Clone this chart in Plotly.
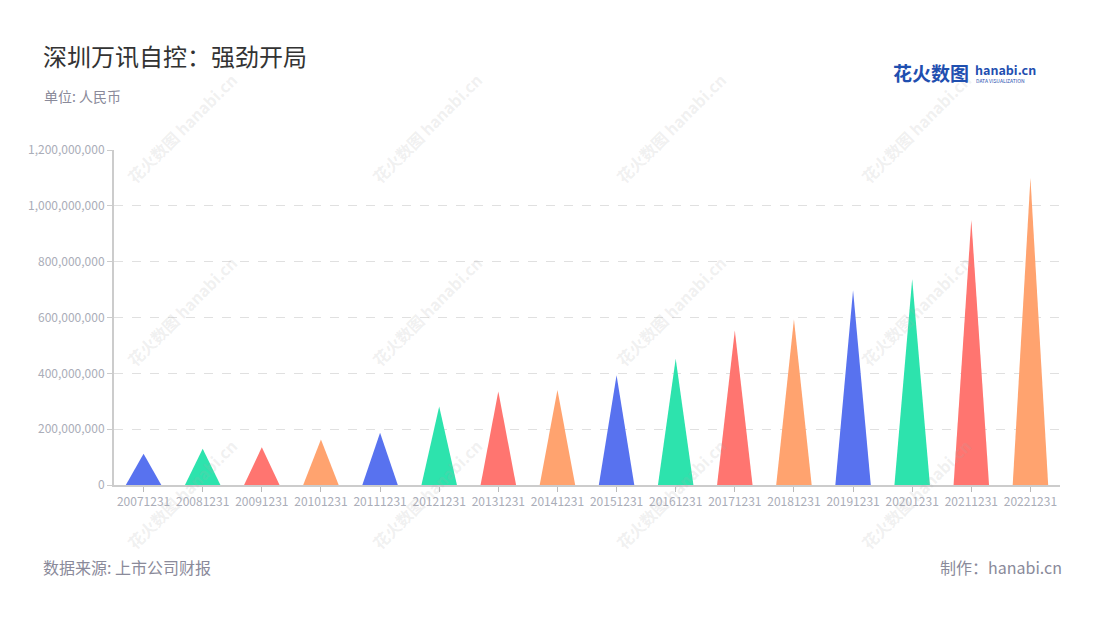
import plotly.graph_objects as go

categories = ["20071231", "20081231", "20091231", "20101231", "20111231", "20121231",
              "20131231", "20141231", "20151231", "20161231", "20171231", "20181231",
              "20191231", "20201231", "20211231", "20221231"]
values = [112e6, 130e6, 135e6, 163e6, 187e6, 281e6, 335e6, 340e6, 393e6, 452e6,
          553e6, 594e6, 698e6, 738e6, 950e6, 1100e6]
palette = ["#5872ef", "#2de3ad", "#ff7570", "#ffa36f"]
y_ticks = [0, 200e6, 400e6, 600e6, 800e6, 1000e6, 1200e6]

FONT = "Noto Sans CJK SC"
HALF = 0.3

# plot area in page pixels
PX0, PX1, PY0, PY1 = 114, 1060, 150, 485
OFF = 8  # page body offset


def px(x):
    return (x - PX0) / (PX1 - PX0)


def py(y):
    return (PY1 - y) / (PY1 - PY0)


fig = go.Figure()
for i, (c, v) in enumerate(zip(categories, values)):
    fig.add_trace(go.Scatter(
        x=[i - HALF, i, i + HALF, i - HALF],
        y=[0, v, 0, 0],
        mode="lines",
        fill="toself",
        fillcolor=palette[i % 4],
        line=dict(width=0, color=palette[i % 4]),
        hoverinfo="skip",
        showlegend=False,
    ))

# watermarks
wm_x = [182, 427, 671, 916]
wm_y = [128, 311, 494]
for wx in wm_x:
    for wy in wm_y:
        fig.add_annotation(
            x=px(wx), y=py(wy), xref="paper", yref="paper",
            xanchor="center", yanchor="middle", showarrow=False,
            text="<b>花火数图 hanabi.cn</b>", textangle=-45,
            font=dict(family=FONT, size=16, color="rgba(170,170,170,0.18)"),
        )

ann = [
    dict(text="深圳万讯自控：强劲开局", x=41, y=55, size=24, color="#333333", anchor="left"),
    dict(text="单位: 人民币", x=42, y=96, size=14, color="#8a8a9a", anchor="left"),
    dict(text="数据来源: 上市公司财报", x=41, y=567, size=16, color="#8a8a9a", anchor="left"),
    dict(text="制作：hanabi.cn", x=1064, y=567, size=16, color="#8a8a9a", anchor="right"),
    dict(text="<b>花火数图</b>", x=891, y=72, size=19, color="#1f4fb0", anchor="left"),
    dict(text="<b>hanabi.cn</b>", x=973, y=69, size=12.5, color="#1f4fb0", anchor="left"),
    dict(text="DATA VISUALIZATION", x=974, y=80, size=5, color="#1f4fb0", anchor="left"),
]
for a in ann:
    fig.add_annotation(
        x=px(a["x"]), y=py(a["y"]), xref="paper", yref="paper",
        xanchor=a["anchor"], yanchor="middle", showarrow=False, text=a["text"],
        font=dict(family=FONT, size=a["size"], color=a["color"]),
    )

fig.update_layout(
    width=1100, height=620,
    margin=dict(l=PX0 - OFF, r=1100 - PX1 + OFF, t=PY0 - OFF, b=620 - PY1 + OFF,
                autoexpand=False),
    paper_bgcolor="white", plot_bgcolor="white",
    font=dict(family=FONT),
    xaxis=dict(
        range=[-0.5, len(categories) - 0.5],
        tickvals=list(range(len(categories))), ticktext=categories,
        showgrid=False, zeroline=False,
        showline=True, linecolor="#cccccc", linewidth=2,
        ticks="outside", ticklen=5, tickcolor="#bbbbbb",
        tickfont=dict(size=12, color="#aaadb8"),
        fixedrange=True,
    ),
    yaxis=dict(
        range=[0, 1200e6], tickvals=y_ticks, tickformat=",d",
        showgrid=True, gridcolor="#e0e0e0", griddash="dash", gridwidth=1,
        zeroline=False,
        showline=True, linecolor="#cccccc", linewidth=2,
        ticks="outside", ticklen=5, tickcolor="#cccccc",
        tickfont=dict(size=12, color="#aaadb8"),
        fixedrange=True,
    ),
)

fig.write_html("out.html")
